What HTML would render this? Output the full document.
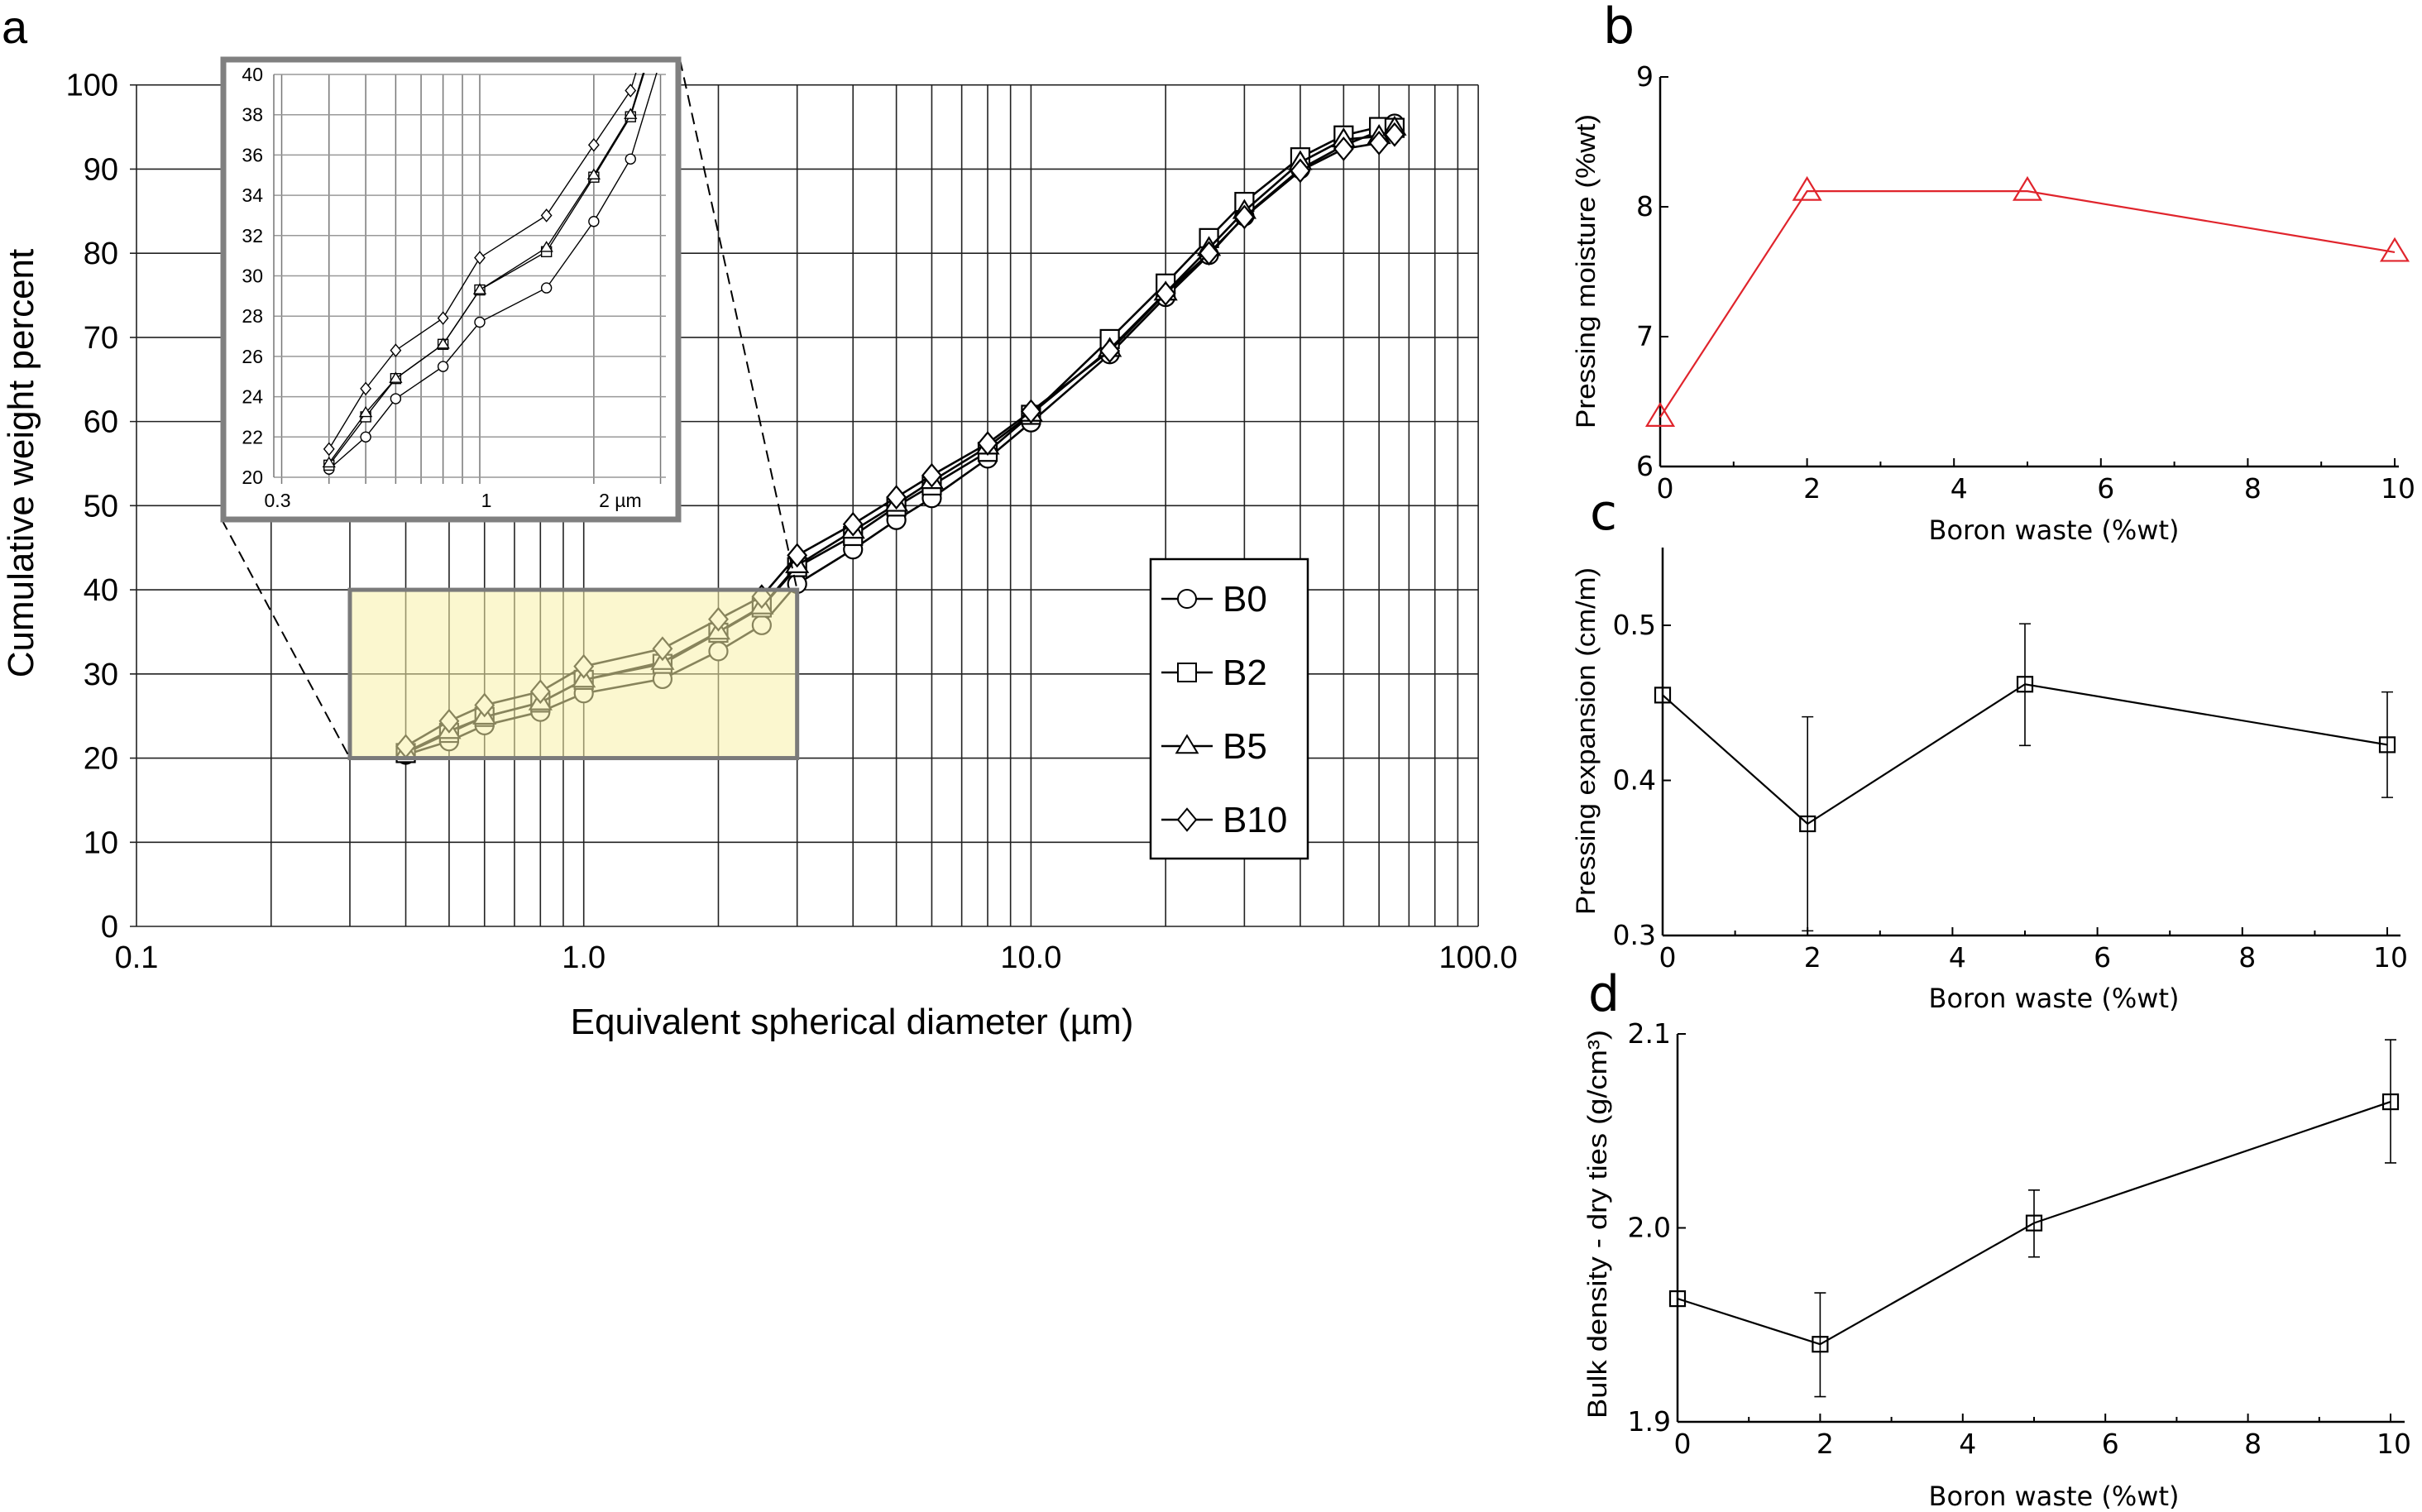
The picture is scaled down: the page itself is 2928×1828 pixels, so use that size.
<!DOCTYPE html>
<html><head><meta charset="utf-8"><style>
html,body{margin:0;padding:0;background:#fff;}
svg{display:block;font-family:"Liberation Sans",sans-serif;}
</style></head><body>
<svg id="fig" width="2928" height="1828" viewBox="0 0 2928 1828" xmlns="http://www.w3.org/2000/svg">
<defs><clipPath id="insetClip"><rect x="331" y="88" width="474" height="492"/></clipPath></defs>
<g id="gMain"></g>
<g id="gB"></g>
<g id="gC"></g>
<g id="gD"></g>
</svg>
<script>
// ---- Panel a data ----
const diam = [0.4,0.5,0.6,0.8,1,1.5,2,2.5,3,4,5,6,8,10,15,20,25,30,40,50,60,65];
const seriesB0 = [20.4,22.0,23.9,25.5,27.7,29.4,32.7,35.8,40.7,44.8,48.3,50.9,55.6,59.9,68.0,74.8,79.8,84.4,90.0,92.8,94.5,95.4];
const seriesB2 = [20.6,23.0,24.9,26.6,29.3,31.2,34.9,37.9,42.7,46.4,49.9,52.4,56.4,60.8,69.8,76.4,81.8,86.1,91.4,94.0,95.0,94.9];
const seriesB5 = [20.7,23.2,24.9,26.6,29.3,31.4,35.0,38.0,42.9,47.0,50.2,52.9,57.0,60.9,68.6,75.3,80.6,85.0,90.8,93.5,93.9,94.9];
const seriesB10 = [21.4,24.4,26.3,27.9,30.9,33.0,36.5,39.2,44.1,47.8,51.0,53.6,57.4,61.2,68.4,75.2,80.0,84.3,89.8,92.4,93.1,94.1];
const seriesNames = ["B0","B2","B5","B10"];
const seriesMarkers = ["circle","square","triangle","diamond"];
const yTicksA = [0,10,20,30,40,50,60,70,80,90,100];
const xTickLabelsA = ["0.1","1.0","10.0","100.0"];
const insetYTicks = [20,22,24,26,28,30,32,34,36,38,40];
const insetXLabels = ["0.3","1","2 µm"];
const insetXLabelVals = [0.3,1,2];
// ---- Panels b,c,d data ----
const boron = [0,2,5,10];
const moisture = [6.38,8.12,8.12,7.65];
const expansion = [0.455,0.372,0.462,0.423];
const expErrHi = [0.455,0.441,0.501,0.457];
const expErrLo = [0.455,0.303,0.4225,0.389];
const density = [1.9635,1.940,2.0025,2.065];
const denErrHi = [1.9635,1.9665,2.0195,2.097];
const denErrLo = [1.9635,1.913,1.985,2.0335];
const xTicksBCD = [0,2,4,6,8,10];
const yTicksB = [6,7,8,9];
const yTicksC = [0.3,0.4,0.5];
const yTicksD = [1.9,2.0,2.1];

const NS="http://www.w3.org/2000/svg";
function mk(parent,tag,attrs,text){const e=document.createElementNS(NS,tag);for(const k in attrs)e.setAttribute(k,attrs[k]);if(text!==undefined)e.textContent=text;parent.appendChild(e);return e;}

const xm=v=>165+(Math.log10(v)+1)*540.7;
const ym=v=>1120-v*10.173;
const xi=v=>580+Math.log10(v)*458;
const yi=v=>577-(v-20)*24.35;

const gA=document.getElementById('gMain');
for(let d=-1;d<2;d++){for(let m=1;m<10;m++){const v=m*Math.pow(10,d);const x=xm(v);
 const l=mk(gA,'line',{x1:x,y1:ym(100),x2:x,y2:ym(0),stroke:'#222','stroke-width':1.6});
 
 }}
{const l=mk(gA,'line',{x1:xm(100),y1:ym(100),x2:xm(100),y2:ym(0),stroke:'#222','stroke-width':1.6});
 
 }
yTicksA.forEach(v=>{const l=mk(gA,'line',{x1:xm(0.1)-8,y1:ym(v),x2:xm(100),y2:ym(v),stroke:'#222','stroke-width':1.6});
 
 
 const t=mk(gA,'text',{x:143,y:ym(v)+13,'text-anchor':'end','font-size':38},String(v));
 
 });
xTickLabelsA.forEach((s,i)=>{const t=mk(gA,'text',{x:xm(Math.pow(10,i-1)),y:1170,'text-anchor':'middle','font-size':38},s);
 
 });
{const t=mk(gA,'text',{x:1030,y:1250,'text-anchor':'middle','font-size':44},'Equivalent spherical diameter (µm)');
 
 
 const t2=mk(gA,'text',{x:40,y:560,'text-anchor':'middle','font-size':44,transform:'rotate(-90 40 560)'},'Cumulative weight percent');
 
 
 const t3=mk(gA,'text',{x:2,y:52,'font-size':56},'a');
 
 }

function marker(g,type,cx,cy,r,color,sw){
 let e;
 if(type==='circle')e=mk(g,'circle',{cx,cy,r,fill:'#fff',stroke:color,'stroke-width':sw});
 else if(type==='square')e=mk(g,'rect',{x:cx-r,y:cy-r,width:2*r,height:2*r,fill:'#fff',stroke:color,'stroke-width':sw});
 else if(type==='triangle')e=mk(g,'polygon',{points:`${cx},${cy-r*1.15} ${cx+r*1.15},${cy+r*0.75} ${cx-r*1.15},${cy+r*0.75}`,fill:'#fff',stroke:color,'stroke-width':sw});
 else e=mk(g,'polygon',{points:`${cx},${cy-r*1.2} ${cx+r},${cy} ${cx},${cy+r*1.2} ${cx-r},${cy}`,fill:'#fff',stroke:color,'stroke-width':sw});
 return e;}

const allSeries=[seriesB0,seriesB2,seriesB5,seriesB10];
allSeries.forEach((s,si)=>{
 const pts=s.map((v,i)=>xm(diam[i])+','+ym(v)).join(' ');
 const pl=mk(gA,'polyline',{points:pts,fill:'none',stroke:'#000','stroke-width':2.6});
 
 
 s.forEach((v,i)=>{const m=marker(gA,seriesMarkers[si],xm(diam[i]),ym(v),11,'#000',2.2);
  
  });
});
{const r=mk(gA,'rect',{x:xm(0.3),y:ym(40),width:xm(3)-xm(0.3),height:ym(20)-ym(40),fill:'#f8f0a8','fill-opacity':0.55,stroke:'#7a7a7a','stroke-width':5});
 
 
 const d1=mk(gA,'line',{x1:268,y1:628,x2:xm(0.3),y2:ym(20),stroke:'#000','stroke-width':2,'stroke-dasharray':'14,8'});
 
 
 const d2=mk(gA,'line',{x1:822,y1:72,x2:xm(3),y2:ym(40),stroke:'#000','stroke-width':2,'stroke-dasharray':'14,8'});
 
 }

const gI=mk(gA,'g',{});


{const b=mk(gI,'rect',{x:270,y:72,width:550,height:556,fill:'#fff',stroke:'#808080','stroke-width':7});
 
 }
[0.3,0.4,0.5,0.6,0.7,0.8,0.9,1,2,3].forEach(v=>{const l=mk(gI,'line',{x1:xi(v),y1:yi(40),x2:xi(v),y2:yi(20)+8,stroke:'#777','stroke-width':1.5});
 
 });
insetYTicks.forEach(v=>{const l=mk(gI,'line',{x1:331,y1:yi(v),x2:805,y2:yi(v),stroke:'#999','stroke-width':1.5});
 
 
 const t=mk(gI,'text',{x:318,y:yi(v)+8,'text-anchor':'end','font-size':23},String(v));
 
 });
{const a=mk(gI,'line',{x1:331,y1:yi(40),x2:331,y2:yi(20),stroke:'#777','stroke-width':1.5});
 
 }
insetXLabels.forEach((s,i)=>{const t=mk(gI,'text',{x:xi(insetXLabelVals[i])+(i===2?32:(i===0?-5:8)),y:613,'text-anchor':'middle','font-size':23},s);
 
 });
const gIc=mk(gI,'g',{'clip-path':'url(#insetClip)'});
allSeries.forEach((s,si)=>{
 const pts=s.map((v,i)=>xi(diam[i])+','+yi(v)).join(' ');
 const pl=mk(gIc,'polyline',{points:pts,fill:'none',stroke:'#000','stroke-width':1.4});
 
 
 s.forEach((v,i)=>{if(diam[i]<3){const m=marker(gIc,seriesMarkers[si],xi(diam[i]),yi(v),6,'#000',1.4);
  
  }});
});

const gL=mk(gA,'g',{});


{const b=mk(gL,'rect',{x:1391,y:676,width:190,height:362,fill:'#fff',stroke:'#000','stroke-width':2.5});
 
 }
seriesNames.forEach((n,i)=>{const y=724+i*89;
 const l=mk(gL,'line',{x1:1404,y1:y,x2:1466,y2:y,stroke:'#000','stroke-width':2.5});
 
 
 const m=marker(gL,seriesMarkers[i],1435,y,11,'#000',2);
 
 
 const t=mk(gL,'text',{x:1478,y:y+15,'font-size':44},n);
 
 });

function panel(g,cfg){
 const X=v=>cfg.x0+v*(cfg.x10-cfg.x0)/10;
 const Y=v=>cfg.yBot-(v-cfg.yMin)*(cfg.yBot-cfg.yTopVal)/(cfg.yMaxTick-cfg.yMin);
 const ax=mk(g,'line',{x1:cfg.x0,y1:cfg.axTop,x2:cfg.x0,y2:cfg.yBot,stroke:'#000','stroke-width':2.5});
 
 
 const bx=mk(g,'line',{x1:cfg.x0,y1:cfg.yBot,x2:cfg.axRight,y2:cfg.yBot,stroke:'#000','stroke-width':2.5});
 
 
 for(let v=0;v<=10;v++){const tk=mk(g,'line',{x1:X(v),y1:cfg.yBot,x2:X(v),y2:cfg.yBot-(v%2===0?10:6),stroke:'#000','stroke-width':2});
  
  }
 xTicksBCD.forEach(v=>{const t=mk(g,'text',{x:X(v)+(v===10?4:6),y:cfg.yBot+38,'text-anchor':'middle','font-size':33,'font-family':'DejaVu Sans, sans-serif'},String(v));
  
  });
 cfg.yTicks.forEach(v=>{const tk=mk(g,'line',{x1:cfg.x0,y1:Y(v),x2:cfg.x0+10,y2:Y(v),stroke:'#000','stroke-width':2});
  
  
  const t=mk(g,'text',{x:cfg.x0-8,y:Y(v)+11,'text-anchor':'end','font-size':33,'font-family':'DejaVu Sans, sans-serif'},cfg.fmt(v));
  
  });
 const xt=mk(g,'text',{x:2483,y:cfg.xTitleY,'text-anchor':'middle','font-size':32,'font-family':'DejaVu Sans, sans-serif'},'Boron waste (%wt)');
 
 
 const yt=mk(g,'text',{x:cfg.yTitleX,y:cfg.yTitleY,'text-anchor':'middle','font-size':32,transform:`rotate(-90 ${cfg.yTitleX} ${cfg.yTitleY})`,textLength:cfg.yTitleLen,lengthAdjust:'spacingAndGlyphs'},cfg.yTitle);
 
 
 const lb=mk(g,'text',{x:cfg.labX,y:cfg.labY,'font-size':60,'font-family':'DejaVu Sans, sans-serif'},cfg.label);
 
 
 if(cfg.hi){cfg.vals.forEach((v,i)=>{if(cfg.hi[i]-cfg.lo[i]>0.001){const x=X(boron[i]);
  const e=mk(g,'path',{d:`M${x},${Y(cfg.hi[i])}V${Y(cfg.lo[i])}M${x-7},${Y(cfg.hi[i])}H${x+7}M${x-7},${Y(cfg.lo[i])}H${x+7}`,stroke:'#000','stroke-width':1.6,fill:'none'});
  
  }});}
 const pl=mk(g,'polyline',{points:cfg.vals.map((v,i)=>X(boron[i])+','+Y(v)).join(' '),fill:'none',stroke:cfg.color,'stroke-width':2.2});
 
 
 cfg.vals.forEach((v,i)=>{const m=marker(g,cfg.marker,X(boron[i]),Y(v),cfg.marker==='triangle'?14:9,cfg.color,2.2);
  m.setAttribute('fill','none');
  
  });
}
panel(document.getElementById('gB'),{x0:2007,x10:2895,axRight:2900,yBot:564,yMin:6,yMaxTick:9,yTopVal:93,axTop:93,yTicks:yTicksB,fmt:v=>String(v),
 xTitleY:652,yTitleX:1928,yTitleY:328,yTitleLen:380,yTitle:'Pressing moisture (%wt)',label:'b',labX:1938,labY:52,vals:moisture,color:'#e0242c',marker:'triangle'});
panel(document.getElementById('gC'),{x0:2010,x10:2886,axRight:2902,yBot:1131,yMin:0.3,yMaxTick:0.5,yTopVal:756,axTop:662,yTicks:yTicksC,fmt:v=>v.toFixed(1),
 xTitleY:1218,yTitleX:1928,yTitleY:896,yTitleLen:420,yTitle:'Pressing expansion (cm/m)',label:'c',labX:1922,labY:640,vals:expansion,hi:expErrHi,lo:expErrLo,color:'#000',marker:'square'});
panel(document.getElementById('gD'),{x0:2028,x10:2890,axRight:2907,yBot:1719,yMin:1.9,yMaxTick:2.1,yTopVal:1250,axTop:1250,yTicks:yTicksD,fmt:v=>v.toFixed(1),
 xTitleY:1820,yTitleX:1942,yTitleY:1480,yTitleLen:470,yTitle:'Bulk density - dry ties (g/cm³)',label:'d',labX:1920,labY:1222,vals:density,hi:denErrHi,lo:denErrLo,color:'#000',marker:'square'});
</script>
</body></html>
